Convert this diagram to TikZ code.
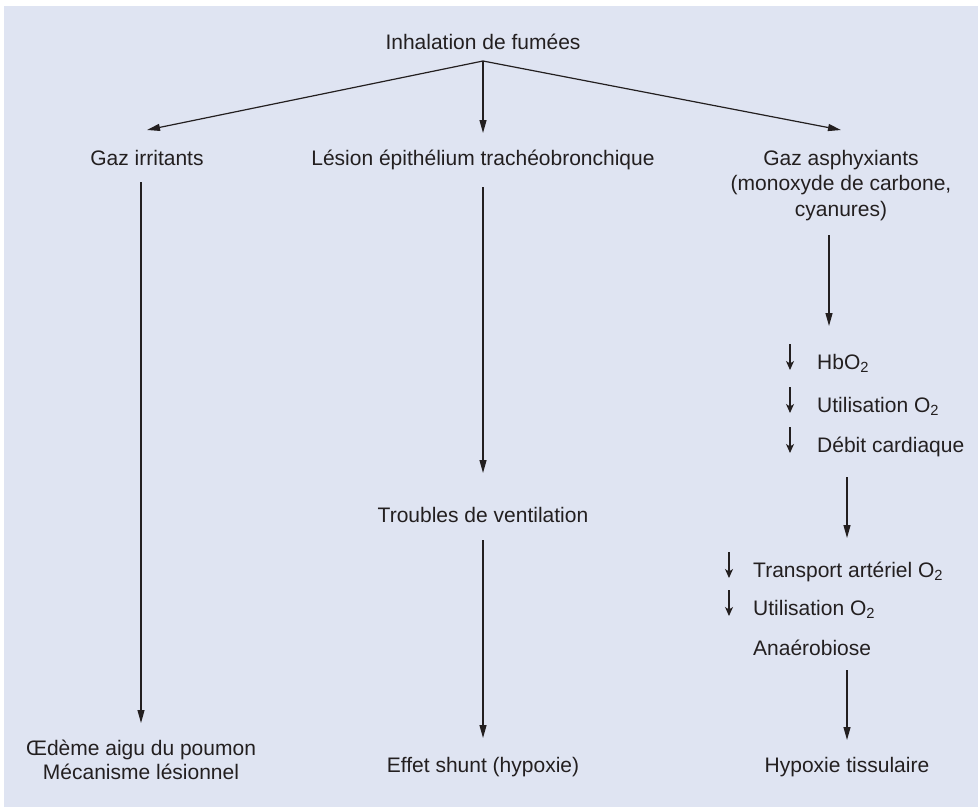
\documentclass[tikz,border=0pt]{standalone}
\usepackage{fontspec}
\setmainfont{Liberation Sans}
\usetikzlibrary{arrows.meta,calc}
\definecolor{bg}{RGB}{223,228,242}
\definecolor{ink}{RGB}{35,31,32}
\begin{document}
\begin{tikzpicture}[x=1pt,y=-1pt,
  lbl/.style={inner sep=0pt, text height=20pt, text depth=5pt, text=ink, font=\fontsize{21}{25}\selectfont},
  lw/.style={lbl, anchor=west},
  arr/.style={draw=ink, line width=1.2pt, -{Triangle[length=13pt,width=7pt]}},
  tick/.style={draw=ink, line width=1.1pt, -{Stealth[length=9pt,width=8pt,inset=2.5pt]}}]
\useasboundingbox (0,0) rectangle (978,808);
\fill[white] (0,0) rectangle (978,808);
\fill[bg] (4,6) rectangle (978,807);

% top
\node[lbl] (inh) at (483,42) {Inhalation de fumées};
\coordinate (apex) at ($(inh.center)+(0,19)$);

% level 1
\node[lbl] (gi) at (147,158) {Gaz irritants};
\node[lbl] (les) at (483,158) {Lésion épithélium trachéobronchique};
\node[lbl] (ga1) at (841,158) {Gaz asphyxiants};
\node[lbl] (ga2) at (841,183) {(monoxyde de carbone,};
\node[lbl] (ga3) at (841,209) {cyanures)};

\draw[arr] (apex) -- ($(gi.center)+(0,-28)$);
\draw[arr] (apex) -- ($(les.center)+(0,-25)$);
\draw[arr] (apex) -- ($(ga1.center)+(0,-28)$);

% left column
\node[lbl] (od1) at (141,748) {Œdème aigu du poumon};
\node[lbl] (od2) at (141,772) {Mécanisme lésionnel};
\draw[arr] ($(od1.center|-gi.center)+(0,24)$) -- ($(od1.center)+(0,-25)$);

% centre column
\node[lbl] (trb) at (483,515) {Troubles de ventilation};
\node[lbl] (eff) at (483,765) {Effet shunt (hypoxie)};
\draw[arr] ($(les.center)+(0,29)$) -- ($(trb.center)+(0,-42)$);
\draw[arr] ($(trb.center)+(0,25)$) -- ($(eff.center)+(0,-27)$);

% right column
\node[lw] (hb) at (817,362) {HbO\textsubscript{2}};
\node[lw] (ut1) at (817,405) {Utilisation O\textsubscript{2}};
\node[lw] (db) at (817,445) {Débit cardiaque};
\draw[tick] ($(hb.west)+(-27,-18)$) -- ++(0,26);
\draw[tick] ($(ut1.west)+(-27,-18)$) -- ++(0,26);
\draw[tick] ($(db.west)+(-27,-18)$) -- ++(0,26);

\node[lw] (tr) at (753,570) {Transport artériel O\textsubscript{2}};
\node[lw] (ut2) at (753,608) {Utilisation O\textsubscript{2}};
\node[lw] (an) at (753,648) {Anaérobiose};
\draw[tick] ($(tr.west)+(-24,-18)$) -- ++(0,26);
\draw[tick] ($(ut2.west)+(-24,-18)$) -- ++(0,26);

\node[lbl] (hy) at (847,765) {Hypoxie tissulaire};

\coordinate (c1) at (829,0);
\coordinate (c2) at (847,0);
\draw[arr] ($(c1|-ga3.center)+(0,26)$) -- ($(c1|-hb.center)+(0,-36)$);
\draw[arr] ($(c2|-db.center)+(0,32)$) -- ($(c2|-tr.center)+(0,-32)$);
\draw[arr] ($(c2|-an.center)+(0,22)$) -- ($(hy.center)+(0,-25)$);
\end{tikzpicture}
\end{document}
